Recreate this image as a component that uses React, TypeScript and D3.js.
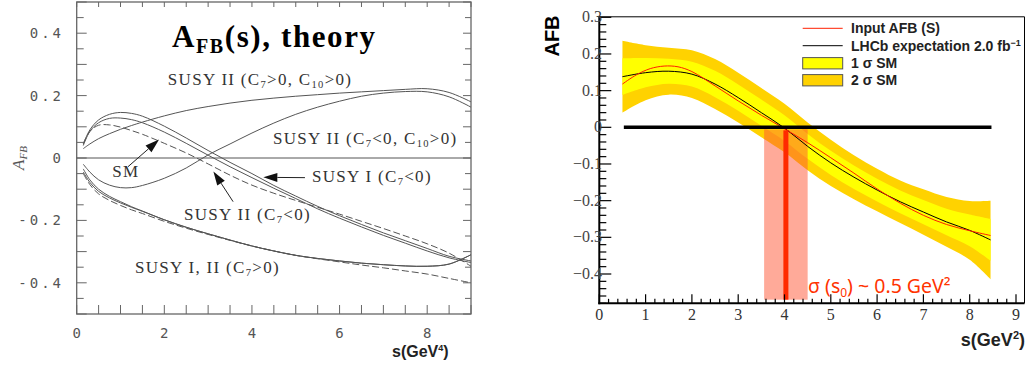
import React from 'react';
import * as d3 from 'd3';

// ---- left panel: theory predictions of A_FB(s) ----
const theoryS = [0.15, 0.3, 0.5, 0.75, 1.0, 1.25, 1.5, 2.0, 2.5, 3.0, 3.5, 4.0, 4.5, 5.0, 5.5, 6.0, 6.5, 7.0, 7.5, 8.0, 8.5, 9.0];
const smTheory = [0.045, 0.085, 0.105, 0.106, 0.099, 0.088, 0.076, 0.047, 0.016, -0.019, -0.055, -0.087, -0.113, -0.136, -0.158, -0.18, -0.203, -0.226, -0.25, -0.275, -0.305, -0.347];
const susyI_c7neg = [0.045, 0.09, 0.122, 0.14, 0.146, 0.143, 0.134, 0.102, 0.064, 0.024, -0.014, -0.05, -0.088, -0.122, -0.155, -0.185, -0.213, -0.24, -0.265, -0.29, -0.315, -0.33];
const susyII_c7neg = [0.04, 0.085, 0.113, 0.127, 0.128, 0.123, 0.113, 0.083, 0.047, 0.009, -0.028, -0.063, -0.097, -0.13, -0.163, -0.193, -0.221, -0.248, -0.273, -0.298, -0.32, -0.335];
const susyII_c7pos_c10pos = [0.03, 0.045, 0.062, 0.078, 0.092, 0.104, 0.115, 0.135, 0.152, 0.165, 0.176, 0.185, 0.192, 0.198, 0.203, 0.208, 0.212, 0.216, 0.22, 0.222, 0.21, 0.18];
const susyII_c7neg_c10pos = [-0.02, -0.045, -0.07, -0.087, -0.095, -0.095, -0.088, -0.065, -0.032, 0.01, 0.045, 0.08, 0.112, 0.14, 0.163, 0.182, 0.198, 0.208, 0.213, 0.212, 0.196, 0.163];
const susyI_c7pos = [-0.035, -0.07, -0.1, -0.123, -0.14, -0.156, -0.17, -0.198, -0.222, -0.243, -0.263, -0.282, -0.298, -0.312, -0.322, -0.33, -0.337, -0.342, -0.346, -0.347, -0.34, -0.31];
const susyII_c7pos = [-0.045, -0.078, -0.107, -0.128, -0.144, -0.158, -0.171, -0.198, -0.222, -0.243, -0.263, -0.282, -0.298, -0.312, -0.322, -0.33, -0.337, -0.342, -0.346, -0.347, -0.34, -0.31];
const susyPosDashed = [-0.05, -0.085, -0.115, -0.136, -0.152, -0.166, -0.178, -0.203, -0.225, -0.245, -0.264, -0.282, -0.298, -0.312, -0.323, -0.333, -0.343, -0.352, -0.362, -0.372, -0.386, -0.4];

const theoryYLabels = [-0.4, -0.2, 0, 0.2, 0.4];
const theoryXLabels = [0, 2, 4, 6, 8];

// ---- right panel: LHCb expectation ----
const bandS = [0.5, 1, 1.5, 2, 2.5, 3, 3.5, 4, 4.5, 5, 5.5, 6, 6.5, 7, 7.5, 8, 8.45];
const lhcbExpect = [0.138, 0.149, 0.153, 0.145, 0.118, 0.081, 0.04, -0.002, -0.052, -0.097, -0.136, -0.171, -0.203, -0.231, -0.258, -0.281, -0.307];
const sigma1 = [0.05, 0.04, 0.034, 0.034, 0.036, 0.036, 0.036, 0.035, 0.034, 0.033, 0.032, 0.031, 0.031, 0.033, 0.036, 0.043, 0.057];
const sigma2 = [0.098, 0.075, 0.064, 0.065, 0.068, 0.068, 0.067, 0.066, 0.065, 0.063, 0.06, 0.058, 0.058, 0.062, 0.068, 0.08, 0.107];
const inputS = [0.5, 0.8, 1.1, 1.4, 1.7, 2.0, 2.5, 3.0, 3.5, 4.0, 4.5, 5.0, 5.5, 6.0, 6.5, 7.0, 7.5, 8.0, 8.45];
const inputAfb = [0.118, 0.143, 0.16, 0.167, 0.165, 0.152, 0.113, 0.072, 0.033, -0.004, -0.042, -0.083, -0.125, -0.168, -0.207, -0.24, -0.265, -0.282, -0.295];
const s0 = 4.03;
const s0Sigma = 0.47;
const zeroLineRange = [0.53, 8.47];

const lhcbYLabels = [-0.4, -0.3, -0.2, -0.1, 0, 0.1, 0.2, 0.3];
const lhcbXLabels = [0, 1, 2, 3, 4, 5, 6, 7, 8, 9];

const SERIF = '"Liberation Serif", "Times New Roman", serif';
const SANS = '"Liberation Sans", Arial, sans-serif';

type Part = string | { sub: string };

const Rich = ({ x, y, parts, size, anchor = 'start', ...rest }: any) => (
  <text x={x} y={y} fontSize={size} textAnchor={anchor} {...rest}>
    {parts.map((p: Part, i: number) =>
      typeof p === 'string' ? (
        <tspan key={i}>{p}</tspan>
      ) : (
        <tspan key={i} fontSize={size * 0.62} baselineShift="-30%">{p.sub}</tspan>
      )
    )}
  </text>
);

const isMult = (v: number, step: number) => Math.abs(v / step - Math.round(v / step)) < 1e-6;

function arrow(x1: number, y1: number, x2: number, y2: number, len = 14, half = 4.5) {
  const a = Math.atan2(y2 - y1, x2 - x1);
  const bx = x2 - len * Math.cos(a);
  const by = y2 - len * Math.sin(a);
  const nx = -Math.sin(a) * half;
  const ny = Math.cos(a) * half;
  return {
    line: `M${x1},${y1}L${bx},${by}`,
    head: `M${x2},${y2}L${bx + nx},${by + ny}L${bx - nx},${by - ny}Z`,
  };
}

const TheoryPanel = () => {
  const x = d3.scaleLinear().domain([0, 9]).range([76.7, 471]);
  const y = d3.scaleLinear().domain([-0.5, 0.5]).range([314, 2]);
  const line = (vals: number[]) =>
    d3.line<number>()
      .x((_, i) => x(theoryS[i]))
      .y((d) => y(d))
      .curve(d3.curveCatmullRom)(vals) as string;

  const yTicks = d3.range(-0.5, 0.5001, 0.05);
  const xTicks = d3.range(0, 9.001, 0.5);
  const stroke = '#555';

  const curves = [
    { v: susyI_c7neg, dash: undefined },
    { v: susyII_c7neg, dash: undefined },
    { v: smTheory, dash: '7,3' },
    { v: susyII_c7pos_c10pos, dash: undefined },
    { v: susyII_c7neg_c10pos, dash: undefined },
    { v: susyI_c7pos, dash: undefined },
    { v: susyII_c7pos, dash: undefined },
    { v: susyPosDashed, dash: '7,3' },
  ];

  // annotation arrows in data coordinates
  const arrows = [
    arrow(x(1.17), y(-0.028), x(1.88), y(0.059)),
    arrow(x(3.57), y(-0.14), x(3.12), y(-0.043)),
    arrow(x(5.21), y(-0.063), x(4.26), y(-0.062)),
  ];

  const labels: { at: [number, number]; parts: Part[] }[] = [
    { at: [2.08, 0.235], parts: ['SUSY II (C', { sub: '7' }, '>0, C', { sub: '10' }, '>0)'] },
    { at: [4.48, 0.046], parts: ['SUSY II (C', { sub: '7' }, '<0, C', { sub: '10' }, '>0)'] },
    { at: [5.37, -0.076], parts: ['SUSY I (C', { sub: '7' }, '<0)'] },
    { at: [0.81, -0.06], parts: ['SM'] },
    { at: [2.45, -0.198], parts: ['SUSY II (C', { sub: '7' }, '<0)'] },
    { at: [1.33, -0.37], parts: ['SUSY I, II (C', { sub: '7' }, '>0)'] },
  ];

  return (
    <g>
      <rect x={x(0)} y={y(0.5)} width={x(9) - x(0)} height={y(-0.5) - y(0.5)} fill="none" stroke="#666" strokeWidth={1.3} />
      {yTicks.map((t, i) => (
        <g key={'yt' + i} stroke="#666" strokeWidth={1}>
          <line x1={x(0)} x2={x(0) + (isMult(t, 0.1) ? 10 : 7)} y1={y(t)} y2={y(t)} />
          <line x1={x(9)} x2={x(9) - (isMult(t, 0.1) ? 8 : 6)} y1={y(t)} y2={y(t)} />
        </g>
      ))}
      {xTicks.map((t, i) => (
        <g key={'xt' + i} stroke="#666" strokeWidth={1}>
          <line x1={x(t)} x2={x(t)} y1={y(-0.5)} y2={y(-0.5) - 9} />
          <line x1={x(t)} x2={x(t)} y1={y(0.5)} y2={y(0.5) + 5} />
        </g>
      ))}
      <line x1={x(0)} x2={x(9)} y1={y(0)} y2={y(0)} stroke="#555" strokeWidth={1} />
      {curves.map((c, i) => (
        <path key={'c' + i} d={line(c.v)} fill="none" stroke={stroke} strokeWidth={1} strokeDasharray={c.dash} />
      ))}
      {arrows.map((a, i) => (
        <g key={'a' + i}>
          <path d={a.line} stroke="#222" strokeWidth={1} />
          <path d={a.head} fill="#111" />
        </g>
      ))}
      {labels.map((l, i) => (
        <Rich key={'l' + i} x={x(l.at[0])} y={y(l.at[1])} parts={l.parts} size={17} letterSpacing={1.3}
          fontFamily={SERIF} fill="#333" />
      ))}
      {theoryYLabels.map((t) => (
        <text key={'yl' + t} x={64} y={y(t) + 5} textAnchor="end" fontSize={14} letterSpacing={3}
          fontFamily='"DejaVu Sans Mono", monospace' fill="#555">
          {t === 0 ? '0' : (t < 0 ? '-' : '') + Math.abs(t).toFixed(1)}
        </text>
      ))}
      {theoryXLabels.map((t) => (
        <text key={'xl' + t} x={x(t)} y={338} textAnchor="middle" fontSize={14}
          fontFamily='"DejaVu Sans Mono", monospace' fill="#555">{t}</text>
      ))}
      <text transform="translate(24,158) rotate(-90)" textAnchor="middle" fontFamily={SERIF} fontStyle="italic" fontSize={17} fill="#555">
        A<tspan fontSize={11} baselineShift="-30%">FB</tspan>
      </text>
      <text x={172} y={47} fontFamily={SERIF} fontWeight="bold" fontSize={31} letterSpacing={1.6} fill="#000">
        A<tspan fontSize={20} baselineShift="-28%">FB</tspan><tspan>(s), theory</tspan>
      </text>
      <text x={392} y={357} fontFamily={SANS} fontWeight="bold" fontSize={16} fill="#222">
        s(GeV<tspan fontSize={9} baselineShift="70%">4</tspan>)
      </text>
    </g>
  );
};

const LhcbPanel = () => {
  const x = d3.scaleLinear().domain([0, 9]).range([599.3, 1016]);
  const y = d3.scaleLinear().domain([-0.4, 0.3]).range([274, 17.3]);
  const yBottom = y(-0.48);
  const xRight = 1024.5;

  const band = (w: number[]) =>
    d3.area<number>()
      .x((_, i) => x(bandS[i]))
      .y0((d, i) => y(d - w[i]))
      .y1((d, i) => y(d + w[i]))
      .curve(d3.curveCatmullRom)(lhcbExpect) as string;

  const expectLine = d3.line<number>()
    .x((_, i) => x(bandS[i]))
    .y((d) => y(d))
    .curve(d3.curveCatmullRom)(lhcbExpect) as string;

  const inputLine = d3.line<number>()
    .x((_, i) => x(inputS[i]))
    .y((d) => y(d))
    .curve(d3.curveCatmullRom)(inputAfb) as string;

  const yTicks = d3.range(-0.48, 0.3001, 0.02);
  const xTicks = d3.range(0, 9.2, 0.2);

  const legend = [
    { kind: 'line', color: '#ff2000', label: 'Input AFB (S)' },
    { kind: 'line', color: '#000', label: 'LHCb expectation 2.0 fb' },
    { kind: 'box', color: '#ffff00', label: '1 σ SM' },
    { kind: 'box', color: '#ffd200', label: '2 σ SM' },
  ];
  const legendY = [28.3, 45.7, 63.3, 80.3];

  return (
    <g>
      <path d={band(sigma2)} fill="#ffd200" />
      <path d={band(sigma1)} fill="#ffff00" />
      <rect x={x(s0 - s0Sigma)} y={y(0) + 2} width={x(s0 + s0Sigma) - x(s0 - s0Sigma)} height={y(-0.47) - y(0) - 2}
        fill="#ff5533" fillOpacity={0.5} />
      <rect x={x(s0) - 2.5} y={y(0) + 3} width={5} height={y(-0.47) - y(0) - 3} fill="#ff2a00" />
      <path d={expectLine} fill="none" stroke="#000" strokeWidth={1} />
      <path d={inputLine} fill="none" stroke="#ff2000" strokeWidth={1} />
      <line x1={x(zeroLineRange[0])} x2={x(zeroLineRange[1])} y1={y(0)} y2={y(0)} stroke="#000" strokeWidth={3.5} />

      {/* frame and axes */}
      <line x1={x(0)} x2={xRight} y1={y(0.3) - 0.5} y2={y(0.3) - 0.5} stroke="#000" strokeWidth={1} />
      <line x1={xRight} x2={xRight} y1={y(0.3) - 0.5} y2={yBottom} stroke="#000" strokeWidth={1} />
      <line x1={x(0)} x2={x(0)} y1={y(0.3) - 1} y2={yBottom + 1} stroke="#000" strokeWidth={2} />
      <line x1={x(0) - 1} x2={xRight} y1={yBottom} y2={yBottom} stroke="#000" strokeWidth={2} />
      {yTicks.map((t, i) => (
        <line key={'yt' + i} x1={x(0)} x2={x(0) + (isMult(t, 0.1) ? 12 : 7)} y1={y(t)} y2={y(t)} stroke="#000" strokeWidth={1.2} />
      ))}
      {xTicks.map((t, i) => (
        <line key={'xt' + i} x1={x(t)} x2={x(t)} y1={yBottom} y2={yBottom - (isMult(t, 1) ? 9 : 4.5)} stroke="#000" strokeWidth={1.2} />
      ))}
      {lhcbYLabels.map((t) => (
        <text key={'yl' + t} x={602} y={y(t) + 5} textAnchor="end" fontSize={16} fontFamily={SERIF} fill="#444">
          {t === 0 ? '0' : (t < 0 ? '\u2212' : '') + Math.abs(t).toFixed(1)}
        </text>
      ))}
      {lhcbXLabels.map((t) => (
        <text key={'xl' + t} x={x(t)} y={320} textAnchor="middle" fontSize={16} fontFamily={SERIF} fill="#333">{t}</text>
      ))}

      {/* legend */}
      {legend.map((l, i) =>
        l.kind === 'line' ? (
          <line key={'lg' + i} x1={802.7} x2={842.7} y1={legendY[i]} y2={legendY[i]} stroke={l.color} strokeWidth={1} />
        ) : (
          <rect key={'lg' + i} x={802.7} y={legendY[i] - 5.7} width={40} height={11.3} fill={l.color} stroke="#555" strokeWidth={1} />
        )
      )}
      {legend.map((l, i) => (
        <text key={'lt' + i} x={851} y={legendY[i] + 5} fontFamily={SANS} fontWeight="bold" fontSize={14} fill="#222">
          {l.label}
          {i === 1 ? <tspan fontSize={9} baselineShift="60%">−1</tspan> : null}
        </text>
      ))}

      <text x={808} y={293} fontFamily='"Noto Sans", "Open Sans", sans-serif' fontSize={19.5} fill="#ff3300">
        σ (s<tspan fontSize={12} baselineShift="-30%">0</tspan>) ~ 0.5 GeV²
      </text>
      <text transform="translate(559,36) rotate(-90)" textAnchor="middle" fontFamily={SANS} fontWeight="bold" fontSize={20} fill="#000">AFB</text>
      <text x={1025} y={346} textAnchor="end" fontFamily={SANS} fontWeight="bold" fontSize={18} fill="#222">
        s(GeV<tspan fontSize={11} baselineShift="60%">2</tspan>)
      </text>
    </g>
  );
};

const App = () => (
  <>
    <style>{'body{margin:0}'}</style>
    <svg width={1026} height={370} style={{ display: 'block', background: '#fff' }}>
      <TheoryPanel />
      <LhcbPanel />
    </svg>
  </>
);

export default App;
